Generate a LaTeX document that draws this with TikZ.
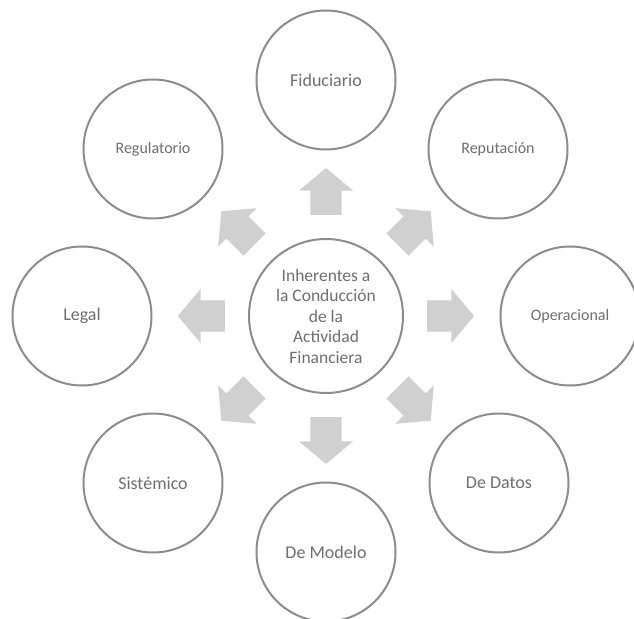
\documentclass[tikz,border=0pt]{standalone}
\usepackage{fontspec}
\setmainfont{Carlito}
\usetikzlibrary{shapes.arrows}
\definecolor{ringgray}{HTML}{8C8C8C}
\definecolor{textgray}{HTML}{6E6E6E}
\definecolor{arrowgray}{HTML}{D0D0D0}
\tikzset{
	riesgo/.style={circle, draw=ringgray, line width=2pt, minimum size=139pt, inner sep=0pt,
		text=textgray, font=\fontsize{18}{21}\selectfont, align=center},
	riesgochico/.style={riesgo, font=\fontsize{16}{19}\selectfont},
	flecha/.style={single arrow, fill=arrowgray, draw=none, inner xsep=0pt, inner ysep=15.5pt,
		minimum height=47pt, single arrow head extend=11.5pt,
		single arrow tip angle=100}
}

\begin{document}
\begin{tikzpicture}[x=1pt, y=1pt]
			%%%%% START %%%%%
			
			\useasboundingbox (-326, -302) rectangle (308, 316);
			
			\node[riesgo, minimum size=154pt, font=\fontsize{17.5}{20.5}\selectfont] (centro) at (0, 0)
				{Inherentes a\\la Conducción\\de la\\Actividad\\Financiera};
			
			\node[riesgo] (fiduciario) at (0, 236) {Fiduciario};
			\node[riesgochico] (reputacion) at (172, 167) {Reputación};
			\node[riesgochico] (operacional) at (244, 0) {Operacional};
			\node[riesgo] (datos) at (173, -167) {De Datos};
			\node[riesgo] (modelo) at (0, -236) {De Modelo};
			\node[riesgo] (sistemico) at (-173, -167) {Sistémico};
			\node[riesgo] (legal) at (-244, 0) {Legal};
			\node[riesgochico] (regulatorio) at (-173, 167) {Regulatorio};
			
			\foreach \ang/\nombre in {90/flefid, 45/flerep, 0/fleope, -45/fledat,
				-90/flemod, -135/flesis, 180/flelegal, 135/flereg}
				\node[flecha, rotate=\ang] (\nombre) at (\ang:118) {};
			
			%%%%% END %%%%%
\end{tikzpicture}
\end{document}
